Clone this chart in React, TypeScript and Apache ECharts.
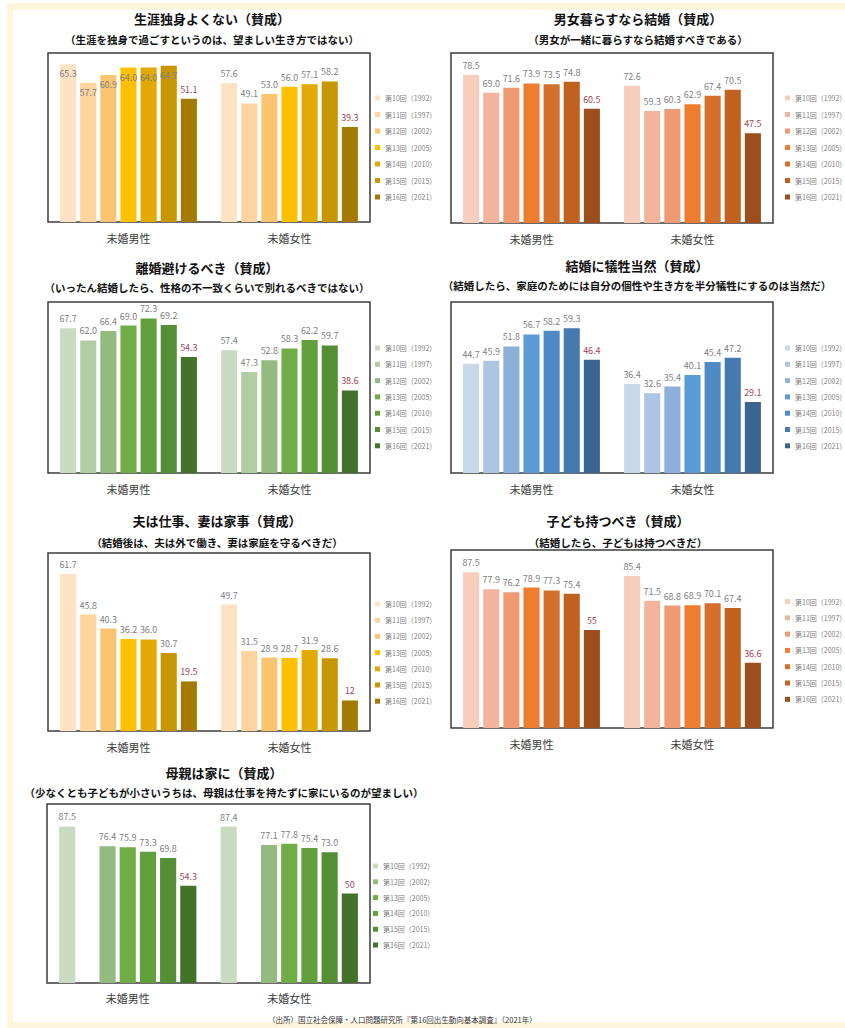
import { useEffect, useRef } from 'react';
import * as echarts from 'echarts';

// ---------- data ----------
const categories = ['未婚男性', '未婚女性'];
const rounds = [
  '第10回（1992）',
  '第11回（1997）',
  '第12回（2002）',
  '第13回（2005）',
  '第14回（2010）',
  '第15回（2015）',
  '第16回（2021）',
];

const singleMale = [65.3, 57.7, 60.9, 64.0, 64.0, 64.7, 51.1];
const singleFemale = [57.6, 49.1, 53.0, 56.0, 57.1, 58.2, 39.3];

const cohabitMale = [78.5, 69.0, 71.6, 73.9, 73.5, 74.8, 60.5];
const cohabitFemale = [72.6, 59.3, 60.3, 62.9, 67.4, 70.5, 47.5];

const divorceMale = [67.7, 62.0, 66.4, 69.0, 72.3, 69.2, 54.3];
const divorceFemale = [57.4, 47.3, 52.8, 58.3, 62.2, 59.7, 38.6];

const sacrificeMale = [44.7, 45.9, 51.8, 56.7, 58.2, 59.3, 46.4];
const sacrificeFemale = [36.4, 32.6, 35.4, 40.1, 45.4, 47.2, 29.1];

const rolesMale = [61.7, 45.8, 40.3, 36.2, 36.0, 30.7, 19.5];
const rolesFemale = [49.7, 31.5, 28.9, 28.7, 31.9, 28.6, 12];

const childrenMale = [87.5, 77.9, 76.2, 78.9, 77.3, 75.4, 55];
const childrenFemale = [85.4, 71.5, 68.8, 68.9, 70.1, 67.4, 36.6];

const motherMale = [87.5, null, 76.4, 75.9, 73.3, 69.8, 54.3];
const motherFemale = [87.4, null, 77.1, 77.8, 75.4, 73.0, 50];

const footerText = '（出所）国立社会保障・人口問題研究所『第16回出生動向基本調査』（2021年）';

// ---------- styles ----------
const FONT = '"Noto Sans CJK JP", "Noto Sans", sans-serif';
const goldPalette = ['#fde3c3', '#fdd39e', '#fbc470', '#ffc000', '#e2a900', '#c89600', '#a47b00'];
const orangePalette = ['#f7cdbd', '#f2b49c', '#ee9b74', '#ed7d31', '#d56f29', '#c06120', '#9c4f1c'];
const greenPalette = ['#c9dcc1', '#b0cda3', '#93bb80', '#70ad47', '#62a03d', '#548f36', '#43722b'];
const bluePalette = ['#c8d8ea', '#adc4e2', '#8db0da', '#5b9bd5', '#4e8bc6', '#457aaf', '#3a6591'];
const LABEL_GRAY = '#7f7f7f';
const LABEL_RED = '#a0465a';

type Panel = {
  title: string;
  subtitle: string;
  male: (number | null)[];
  female: (number | null)[];
  palette: string[];
  yMax: number;
  grid: { left: number; top: number; width: number; height: number };
  titleX: number;
  titleY: number;
  subY: number;
  legend: { left: number; top: number; gap: number };
  omit?: number[];
  insideMale?: boolean;
  labelMargin?: number;
};

const panels: Panel[] = [
  {
    title: '生涯独身よくない（賛成）',
    subtitle: '（生涯を独身で過ごすというのは、望ましい生き方ではない）',
    male: singleMale,
    female: singleFemale,
    palette: goldPalette,
    yMax: 70,
    grid: { left: 48, top: 53, width: 322, height: 169 },
    titleX: 212, titleY: 18, subY: 39,
    legend: { left: 375, top: 94, gap: 8.5 },
    insideMale: true,
  },
  {
    title: '男女暮らすなら結婚（賛成）',
    subtitle: '（男女が一緒に暮らすなら結婚すべきである）',
    male: cohabitMale,
    female: cohabitFemale,
    palette: orangePalette,
    yMax: 90,
    grid: { left: 451, top: 53, width: 322, height: 170 },
    titleX: 638, titleY: 18, subY: 39,
    legend: { left: 785, top: 94, gap: 8.5 },
  },
  {
    title: '離婚避けるべき（賛成）',
    subtitle: '（いったん結婚したら、性格の不一致くらいで別れるべきではない）',
    male: divorceMale,
    female: divorceFemale,
    palette: greenPalette,
    yMax: 80,
    grid: { left: 48, top: 302, width: 322, height: 171 },
    titleX: 207, titleY: 267, subY: 287,
    legend: { left: 375, top: 344, gap: 8.3 },
  },
  {
    title: '結婚に犠牲当然（賛成）',
    subtitle: '（結婚したら、家庭のためには自分の個性や生き方を半分犠牲にするのは当然だ）',
    male: sacrificeMale,
    female: sacrificeFemale,
    palette: bluePalette,
    yMax: 70,
    grid: { left: 451, top: 302, width: 322, height: 171 },
    titleX: 637, titleY: 265, subY: 285,
    legend: { left: 785, top: 344, gap: 8.3 },
  },
  {
    title: '夫は仕事、妻は家事（賛成）',
    subtitle: '（結婚後は、夫は外で働き、妻は家庭を守るべきだ）',
    male: rolesMale,
    female: rolesFemale,
    palette: goldPalette,
    yMax: 70,
    grid: { left: 48, top: 553, width: 322, height: 178 },
    titleX: 217, titleY: 520, subY: 542,
    legend: { left: 375, top: 600, gap: 8.2 },
  },
  {
    title: '子ども持つべき（賛成）',
    subtitle: '（結婚したら、子どもは持つべきだ）',
    male: childrenMale,
    female: childrenFemale,
    palette: orangePalette,
    yMax: 100,
    grid: { left: 451, top: 550, width: 322, height: 178 },
    titleX: 618, titleY: 520, subY: 542,
    legend: { left: 785, top: 597.5, gap: 8.3 },
  },
  {
    title: '母親は家に（賛成）',
    subtitle: '（少なくとも子どもが小さいうちは、母親は仕事を持たずに家にいるのが望ましい）',
    male: motherMale,
    female: motherFemale,
    palette: greenPalette,
    yMax: 100,
    grid: { left: 47, top: 804, width: 323, height: 179 },
    titleX: 224, titleY: 772, subY: 792,
    legend: { left: 373, top: 862, gap: 7.8 },
    omit: [1],
    labelMargin: 9,
  },
];

function buildOption() {
  const grid: any[] = [];
  const xAxis: any[] = [];
  const yAxis: any[] = [];
  const legend: any[] = [];
  const series: any[] = [];
  const graphic: any[] = [
    { type: 'rect', z: -10, shape: { x: 7, y: 3, width: 838, height: 1025 }, style: { fill: '#fcf6dc' } },
    { type: 'rect', z: -9, shape: { x: 13, y: 10, width: 832, height: 1012 }, style: { fill: '#ffffff' } },
  ];

  panels.forEach((p, pi) => {
    grid.push({
      ...p.grid,
      show: true,
      borderColor: '#3c3c3c',
      borderWidth: 1.5,
      backgroundColor: 'transparent',
      containLabel: false,
    });
    xAxis.push({
      type: 'category',
      gridIndex: pi,
      data: categories,
      axisLine: { show: false },
      axisTick: { show: false },
      axisLabel: { fontSize: 11, color: '#404040', fontFamily: FONT, margin: p.labelMargin ?? 10 },
    });
    yAxis.push({
      type: 'value',
      gridIndex: pi,
      min: 0,
      max: p.yMax,
      show: false,
      splitLine: { show: false },
    });

    const omit = p.omit || [];
    legend.push({
      orient: 'vertical',
      left: p.legend.left,
      top: p.legend.top,
      padding: 0,
      itemGap: p.legend.gap,
      itemWidth: 5,
      itemHeight: 5,
      icon: 'rect',
      selectedMode: false,
      textStyle: { fontSize: 7, color: '#7f7f7f', fontFamily: FONT, lineHeight: 8 },
      data: rounds
        .map((name, r) => ({ name, r }))
        .filter((d) => !omit.includes(d.r))
        .map((d) => ({ name: d.name, itemStyle: { color: p.palette[d.r] } })),
    });

    rounds.forEach((name, r) => {
      const isLast = r === rounds.length - 1;
      const mk = (v: number | null, inside: boolean) => {
        if (v === null || omit.includes(r)) return { value: '-' };
        if (inside) return { value: v, label: { position: 'insideTop', distance: 5 } };
        return { value: v };
      };
      series.push({
        type: 'bar',
        name,
        xAxisIndex: pi,
        yAxisIndex: pi,
        barGap: '25%',
        barCategoryGap: '15%',
        itemStyle: { color: p.palette[r] },
        data: [mk(p.male[r], !!p.insideMale && !isLast), mk(p.female[r], false)],
        label: {
          show: true,
          position: 'top',
          distance: 5,
          fontSize: 9,
          fontFamily: FONT,
          color: isLast ? LABEL_RED : LABEL_GRAY,
          formatter: (prm: any) => {
            const v = Number(prm.value);
            return isLast ? String(v) : v.toFixed(1);
          },
        },
      });
    });

    graphic.push({
      type: 'text',
      x: p.titleX,
      y: p.titleY,
      style: {
        text: p.title,
        fontSize: 13,
        fontWeight: 'bold',
        fontFamily: FONT,
        fill: '#111',
        align: 'center',
        verticalAlign: 'middle',
      },
    });
    graphic.push({
      type: 'text',
      x: p.titleX,
      y: p.subY,
      style: {
        text: p.subtitle,
        fontSize: 10.5,
        fontWeight: 'bold',
        fontFamily: FONT,
        fill: '#111',
        align: 'center',
        verticalAlign: 'middle',
      },
    });
  });

  graphic.push({
    type: 'text',
    x: 268,
    y: 1019,
    style: {
      text: footerText,
      fontSize: 7.5,
      fontFamily: FONT,
      fill: '#333',
      align: 'left',
      verticalAlign: 'middle',
    },
  });

  return {
    animation: false,
    backgroundColor: '#ffffff',
    textStyle: { fontFamily: FONT },
    grid,
    xAxis,
    yAxis,
    legend,
    series,
    graphic,
  };
}

export default function App() {
  const ref = useRef<HTMLDivElement>(null);
  useEffect(() => {
    if (!ref.current) return;
    const chart = echarts.init(ref.current, undefined, { renderer: 'svg' });
    chart.setOption(buildOption() as any);
    return () => chart.dispose();
  }, []);
  return (
    <div
      ref={ref}
      style={{ position: 'absolute', left: 0, top: 0, width: 845, height: 1028 }}
    />
  );
}
